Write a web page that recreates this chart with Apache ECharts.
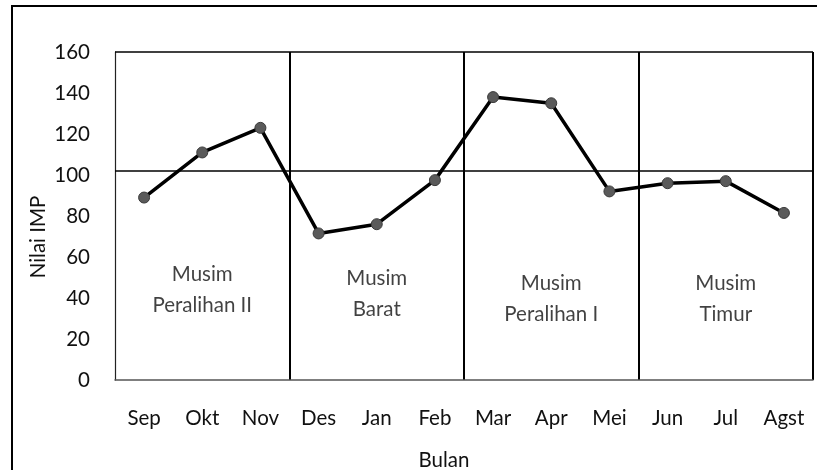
<!DOCTYPE html>
<html>
<head>
<meta charset="utf-8">
<script src="https://cdn.jsdelivr.net/npm/echarts@6/dist/echarts.min.js"></script>
<style>
html,body{margin:0;padding:0;background:#fff;}
#chart{width:817px;height:470px;}
</style>
</head>
<body>
<div id="chart"></div>
<script>
const months = ['Sep','Okt','Nov','Des','Jan','Feb','Mar','Apr','Mei','Jun','Jul','Agst'];
const impValues = [89, 111, 123, 71.5, 76, 97.5, 138, 135, 92, 96, 97, 81.5];
const referenceLine = 102;
const yTicks = [0, 20, 40, 60, 80, 100, 120, 140, 160];
const seasons = ['Musim\nPeralihan II', 'Musim\nBarat', 'Musim\nPeralihan I', 'Musim\nTimur'];
const seasonLabelY = [44, 42, 39.5, 39.5];
const monthsPerSeason = 3;

const FONT = 'Lato';
const FS = 20.5;
const TXT = '#111';
const chart = echarts.init(document.getElementById('chart'), null, {renderer: 'canvas'});

chart.setOption({
  animation: false,
  backgroundColor: '#fff',
  textStyle: {fontFamily: FONT},
  grid: {left: 115, right: 4, top: 52, bottom: 90, containLabel: false},
  xAxis: [
    {
      type: 'category',
      data: months,
      boundaryGap: true,
      axisLine: {show: true, lineStyle: {color: '#555', width: 1.5}},
      axisTick: {show: false},
      axisLabel: {fontSize: FS, color: TXT, margin: 28, fontFamily: FONT},
      splitLine: {show: false}
    },
    {
      type: 'value',
      min: 0,
      max: months.length,
      interval: monthsPerSeason,
      position: 'bottom',
      axisLine: {show: false},
      axisTick: {show: false},
      axisLabel: {show: false},
      splitLine: {show: true, showMinLine: false, lineStyle: {color: '#000', width: 2}}
    }
  ],
  yAxis: {
    type: 'value',
    min: yTicks[0],
    max: yTicks[yTicks.length - 1],
    interval: yTicks[1] - yTicks[0],
    axisLine: {show: true, lineStyle: {color: '#222', width: 1.2}},
    axisTick: {show: false},
    axisLabel: {fontSize: FS, color: TXT, margin: 25, fontFamily: FONT},
    splitLine: {show: false}
  },
  graphic: [
    {type: 'rect', shape: {x: 12, y: 6, width: 900, height: 600}, style: {fill: 'none', stroke: '#000', lineWidth: 2}, silent: true, z: 100},
    {type: 'text', x: 38, y: 237, rotation: Math.PI / 2, style: {text: 'Nilai IMP', fontSize: FS, fontFamily: FONT, fill: TXT, textAlign: 'center', textVerticalAlign: 'middle'}},
    {type: 'text', x: 444, y: 460, style: {text: 'Bulan', fontSize: FS, fontFamily: FONT, fill: TXT, textAlign: 'center', textVerticalAlign: 'middle'}}
  ],
  series: [
    {
      type: 'line',
      xAxisIndex: 0,
      data: impValues,
      lineStyle: {color: '#000', width: 3.5},
      symbol: 'circle',
      symbolSize: 11,
      itemStyle: {color: '#5a5a5a', borderColor: '#3a3a3a', borderWidth: 1},
      z: 5,
      markLine: {
        silent: true,
        symbol: 'none',
        label: {show: false},
        lineStyle: {color: '#000', width: 1.5, type: 'solid'},
        data: [{yAxis: referenceLine}, {yAxis: yTicks[yTicks.length - 1]}]
      }
    },
    {
      type: 'scatter',
      xAxisIndex: 0,
      symbolSize: 0,
      silent: true,
      data: seasons.map((s, i) => ({value: [months[i * monthsPerSeason + 1], seasonLabelY[i]], name: s})),
      label: {
        show: true,
        position: 'inside',
        formatter: p => p.name,
        fontSize: FS,
        lineHeight: 31,
        color: TXT,
        fontFamily: FONT,
        align: 'center'
      }
    }
  ]
});
</script>
</body>
</html>
